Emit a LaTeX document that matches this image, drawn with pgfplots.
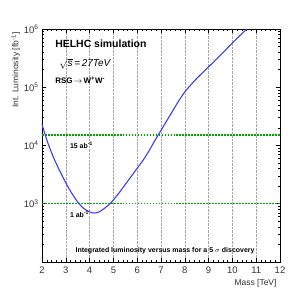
\documentclass[border=0pt]{standalone}
\usepackage{pgfplots}
\pgfplotsset{compat=1.18}
\usepackage{fontspec}
\setmainfont{Liberation Sans}
\definecolor{rootblue}{RGB}{60,60,250}
\begin{document}
\begin{tikzpicture}
\useasboundingbox (0,0) rectangle (305bp,292bp);
\begin{axis}[
  at={(42bp,30bp)}, anchor=south west,
  scale only axis, width=238bp, height=233bp,
  xmin=2, xmax=12, ymin=100, ymax=1000000,
  ymode=log,
  xtick={2,3,...,12},
  minor x tick num=4,
  ytick={100,1000,10000,100000,1000000},
  yticklabels={,10\textsuperscript{3},10\textsuperscript{4},10\textsuperscript{5},10\textsuperscript{6}},
  /pgf/number format/assume math mode=true,
  tick label style={font=\fontsize{9.5}{11}\selectfont, text=black!80},
  xmajorgrids, grid style={densely dotted, gray!70, line width=0.5pt},
  major tick length=4bp, minor tick length=2bp,
  tick style={black, line width=0.5pt},
  axis line style={line width=0.8pt},
  clip=false,
  xticklabel style={yshift=-1bp},
]
\addplot[green!65!black, line width=1.5pt, dash pattern=on 1.8pt off 1.2pt] coordinates {(2,1000) (12,1000)};
\addplot[green!65!black, line width=1.5pt, dash pattern=on 1.8pt off 1.2pt] coordinates {(2,15000) (12,15000)};
\addplot[rootblue, line width=1.1pt, smooth, tension=0.5] coordinates {
(2.0,22909) (2.25,10965) (2.5,6026) (2.75,3631) (3.0,2291) (3.25,1514)
(3.5,1072) (3.75,832) (4.0,724) (4.2,692) (4.4,724) (4.6,820) (4.8,955)
(5.0,1160) (5.25,1560) (5.5,2150) (5.75,2951) (6.0,4074) (6.25,5623)
(6.5,8128) (6.75,12303) (7.0,18197) (7.25,26915) (7.5,39811) (7.75,58884)
(8.0,83176) (8.25,109648) (8.5,141254) (9.0,223872) (9.5,354813)
(10.0,575440) (10.6,1000000)
};
\node[anchor=west, inner sep=0pt, font=\bfseries\fontsize{10.5}{12}\selectfont] at (rel axis cs:0.055,0.936) {HELHC simulation};
\node[anchor=west, inner sep=0pt, font=\fontsize{10}{12}\selectfont] at (rel axis cs:0.072,0.852) {$\sqrt{\mbox{\itshape s}}$\textit{\,=\,27TeV}};
\node[anchor=west, inner sep=0pt, font=\bfseries\fontsize{8}{10}\selectfont] at (rel axis cs:0.055,0.781) {RSG\,\ensuremath{\rightarrow}\,W\textsuperscript{+}W\textsuperscript{-}};
\node[anchor=west, font=\bfseries\fontsize{7}{8}\selectfont] at (rel axis cs:0.103,0.502) {15 ab\textsuperscript{-1}};
\node[anchor=west, font=\bfseries\fontsize{7}{8}\selectfont] at (rel axis cs:0.103,0.206) {1 ab\textsuperscript{-1}};
\node[font=\bfseries\fontsize{7}{8}\selectfont] at (rel axis cs:0.517,0.05) {Integrated luminosity versus mass for a 5 \ensuremath{\sigma} discovery};
\node[rotate=90, anchor=east, font=\fontsize{8.5}{10}\selectfont, text=black!80] at (rel axis cs:-0.11,1) {Int. Luminosity [fb\textsuperscript{-1}]};
\node[anchor=east, font=\fontsize{8.5}{10}\selectfont, text=black!80] at (rel axis cs:1,-0.09) {Mass [TeV]};
\end{axis}
\end{tikzpicture}
\end{document}
